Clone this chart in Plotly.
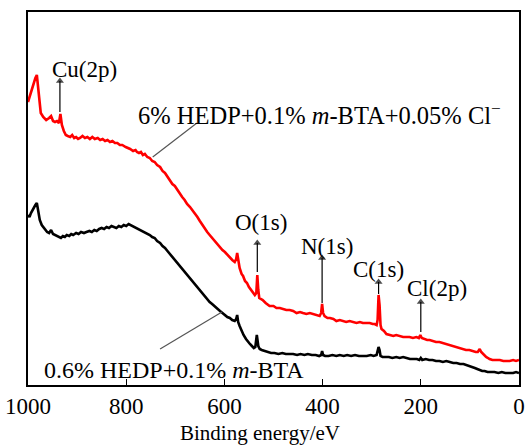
import plotly.graph_objects as go

# Binding energy (eV) and intensity (a.u.)
red_ev = [1000, 996, 992, 988, 985, 982, 978, 974, 969, 963, 957, 953, 949, 945, 941, 937, 934, 931, 927, 923,
          919, 914, 910, 906, 902, 898, 894, 889, 884, 879, 874, 869, 864, 858, 853, 848, 843, 838, 833, 828,
          823, 818, 813, 808, 801, 796, 792, 786, 781, 778, 774, 770, 766, 762, 757, 752, 747, 742, 737, 731,
          726, 721, 716, 711, 706, 701, 696, 691, 686, 681, 676, 670, 665, 660, 655, 650, 645, 640, 635, 630,
          625, 619, 614, 609, 604, 599, 594, 589, 584, 579, 576, 574, 572, 569, 565, 562, 558, 554, 550, 546,
          542, 538, 535, 533, 531, 529, 526, 522, 516, 512, 508, 500, 494, 487, 480, 474, 467, 460, 453, 446,
          440, 433, 426, 420, 414, 410, 406, 403, 401, 399, 396, 390, 385, 378, 372, 365, 358, 352, 345, 338,
          331, 324, 318, 311, 304, 298, 294, 290, 288, 286, 284, 282, 280, 275, 270, 263, 256, 250, 243, 236,
          230, 223, 216, 209, 204, 201, 198, 193, 187, 182, 175, 169, 162, 155, 148, 141, 135, 128, 121, 115,
          108, 101, 95, 88, 84, 80, 77, 72, 67, 63, 60, 54, 47, 39, 32, 25, 19, 12, 6, 0]
red_int = [283, 290, 297, 303, 307, 310, 290, 272, 268, 265, 267, 269, 264, 263, 264, 262, 271, 260, 254, 250,
           249, 248, 250, 247, 248, 246, 247, 249, 247, 248, 246, 248, 246, 247, 245, 246, 244, 245, 243, 244,
           242, 242, 240, 240, 238, 237, 236, 234, 235, 233, 232, 233, 230, 231, 228, 227, 224, 223, 220, 218,
           214, 212, 208, 205, 201, 199, 195, 192, 188, 185, 181, 178, 175, 171, 168, 164, 160, 157, 153, 150,
           147, 144, 140, 138, 135, 133, 130, 128, 125, 123, 126, 132, 125, 117, 111, 109, 104, 102, 98, 95,
           92, 90, 92, 110, 95, 87, 86, 85, 82, 80, 79, 79, 77, 77, 76, 75, 75, 74, 72, 73,
           72, 71, 72, 71, 70, 70, 69, 72, 81, 72, 69, 67, 67, 66, 64, 65, 64, 63, 64, 63,
           62, 63, 62, 62, 62, 61, 61, 60, 65, 90, 80, 60, 56, 54, 51, 50, 49, 50, 49, 48,
           48, 48, 47, 48, 47, 50, 47, 46, 45, 45, 44, 43, 43, 42, 41, 40, 39, 38, 37, 36,
           35, 35, 34, 33, 33, 36, 33, 30, 28, 27, 26, 25, 25, 25, 24, 24, 24, 25, 24, 25]

black_ev = [1000, 997, 994, 991, 988, 985, 982, 979, 976, 972, 969, 965, 961, 957, 953, 949, 945, 941, 937, 933,
            929, 925, 921, 916, 912, 908, 902, 897, 892, 886, 881, 875, 870, 865, 860, 855, 850, 845, 840, 835,
            830, 825, 820, 815, 810, 805, 800, 795, 791, 787, 783, 778, 774, 770, 766, 762, 757, 752, 747, 742,
            737, 731, 726, 721, 716, 711, 706, 701, 696, 691, 686, 681, 676, 670, 665, 660, 655, 650, 645, 640,
            635, 630, 625, 619, 614, 609, 604, 599, 594, 589, 584, 579, 576, 574, 572, 569, 565, 561, 556, 552,
            548, 544, 540, 537, 534, 531, 528, 524, 518, 512, 505, 498, 490, 482, 475, 468, 460, 452, 445, 437,
            430, 422, 414, 407, 403, 401, 399, 395, 388, 380, 372, 365, 357, 350, 342, 334, 326, 318, 310, 302,
            296, 290, 288, 286, 284, 282, 278, 272, 265, 258, 250, 243, 236, 229, 222, 215, 208, 203, 200, 197,
            190, 183, 176, 169, 162, 155, 148, 141, 134, 127, 120, 113, 106, 100, 95, 90, 85, 80, 75, 70,
            64, 58, 50, 42, 35, 28, 20, 12, 6, 0]
black_int = [170, 168, 172, 175, 178, 180, 182, 172, 165, 160, 158, 155, 153, 152, 155, 151, 150, 149, 148, 147,
             149, 148, 150, 149, 151, 150, 152, 151, 153, 152, 153, 154, 153, 155, 154, 156, 157, 156, 158, 157,
             159, 158, 157, 159, 158, 160, 159, 161, 160, 159, 158, 157, 156, 155, 154, 153, 151, 150, 148, 147,
             144, 142, 139, 137, 134, 131, 128, 125, 122, 119, 116, 113, 110, 106, 103, 100, 97, 94, 91, 88,
             86, 83, 81, 78, 76, 74, 72, 70, 68, 67, 65, 64, 66, 70, 63, 59, 54, 50, 46, 43,
             41, 39, 37, 38, 50, 39, 36, 35, 34, 33, 32, 32, 31, 32, 31, 31, 31, 30, 31, 30,
             31, 30, 30, 29, 30, 34, 30, 29, 29, 30, 29, 30, 29, 30, 29, 30, 29, 29, 29, 30,
             29, 30, 33, 38, 35, 29, 28, 28, 28, 27, 28, 27, 28, 27, 26, 26, 26, 25, 27, 25,
             26, 25, 25, 24, 24, 23, 24, 23, 22, 22, 21, 21, 20, 19, 18, 17, 16, 15, 14, 14,
             13, 13, 13, 12, 13, 12, 12, 12, 13, 12]

tick_vals = [1000, 800, 600, 400, 200, 0]
tick_text = ["1000", "800", "600", "400", "200", "0"]

red_label = "6% HEDP+0.1% <i>m</i>-BTA+0.05% Cl<sup>\u2212</sup>"
black_label = "0.6% HEDP+0.1% <i>m</i>-BTA"
x_title = "Binding energy/eV"

FONT = "Liberation Serif, Times New Roman, serif"

fig = go.Figure()
fig.add_trace(go.Scatter(x=red_ev, y=red_int, mode="lines",
                         line=dict(color="#ff0000", width=2.6), showlegend=False))
fig.add_trace(go.Scatter(x=black_ev, y=black_int, mode="lines",
                         line=dict(color="#000000", width=2.6), showlegend=False))

ann = []
# peak labels with arrows (text, text x, text y, arrow x, arrow base y, arrow tip y)
peaks = [
    ("Cu(2p)", 884, 316, 935, 273, 304),
    ("O(1s)", 526, 163, 533, 113, 142),
    ("N(1s)", 392, 139, 401, 82, 127),
    ("C(1s)", 286, 116, 286, 91, 103),
    ("Cl(2p)", 168, 97, 200, 53, 83),
]
for t, tx, ty, axx, yb, yt in peaks:
    ann.append(dict(x=tx, y=ty, xref="x", yref="y", text=t, showarrow=False,
                    font=dict(family=FONT, size=23, color="black")))
    fig.add_trace(go.Scatter(x=[axx, axx], y=[yb, yt], mode="lines+markers",
                             line=dict(color="black", width=1.2),
                             marker=dict(symbol=["circle", "triangle-up"], size=[0, 7],
                                         color="black", line=dict(width=0)),
                             showlegend=False, hoverinfo="skip"))

ann.append(dict(x=780, y=271, xref="x", yref="y", text=red_label, showarrow=False,
                xanchor="left", font=dict(family=FONT, size=24.5, color="black")))
ann.append(dict(x=972, y=15, xref="x", yref="y", text=black_label, showarrow=False,
                xanchor="left", font=dict(family=FONT, size=24, color="black")))
ann.append(dict(x=0.4725, y=-0.128, xref="paper", yref="paper", text=x_title, showarrow=False,
                xanchor="center", yanchor="middle",
                font=dict(family=FONT, size=21, color="black")))
fig.update_layout(annotations=ann)

# leader lines
fig.add_shape(type="line", x0=746, y0=228, x1=656, y1=262, xref="x", yref="y",
              line=dict(color="#555555", width=1.2))
fig.add_shape(type="line", x0=731, y0=36, x1=605, y1=73, xref="x", yref="y",
              line=dict(color="#555555", width=1.2))

fig.update_xaxes(range=[1000, 0], tickvals=tick_vals, ticktext=tick_text,
                 ticks="inside", ticklen=6, tickwidth=1.2, tickcolor="black",
                 showline=True, linecolor="black", linewidth=1.5, mirror=True,
                 showgrid=False, zeroline=False, automargin=False,
                 tickfont=dict(family=FONT, size=23, color="black"))
fig.update_yaxes(range=[0, 373], showticklabels=False, ticks="",
                 showline=True, linecolor="black", linewidth=1.5, mirror=True,
                 showgrid=False, zeroline=False, automargin=False)

fig.update_layout(width=527, height=445, margin=dict(l=28, r=8, t=12, b=60),
                  plot_bgcolor="white", paper_bgcolor="white")

fig.write_html("out.html", config={"displayModeBar": False},
               post_script="document.body.style.margin='0';document.body.style.overflow='hidden';")
